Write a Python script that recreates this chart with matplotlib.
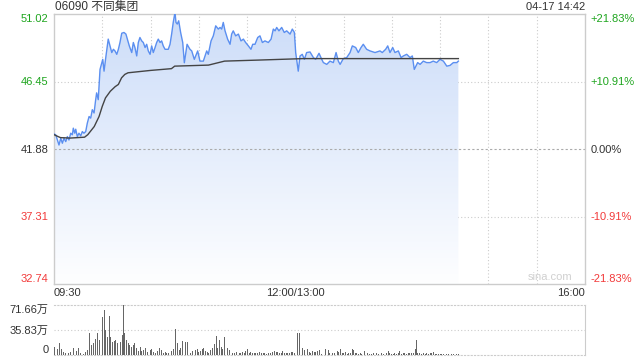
import numpy as np
import matplotlib
matplotlib.use("Agg")
import matplotlib.pyplot as plt
from matplotlib.patches import Polygon

plt.rcParams['font.family'] = ['Liberation Sans', 'Noto Sans CJK SC', 'DejaVu Sans']

title = "06090 不同集团"
stamp = "04-17 14:42"
prev_close = 41.88
y_ticks = [32.74, 37.31, 41.88, 46.45, 51.02]
y_tick_labels = ["32.74", "37.31", "41.88", "46.45", "51.02"]
pct_labels = ["-21.83%", "-10.91%", "0.00%", "+10.91%", "+21.83%"]
x_ticks = [0, 150, 330]
x_tick_labels = ["09:30", "12:00/13:00", "16:00"]
vol_ticks = [0, 35.83, 71.66]
vol_tick_labels = ["0", "35.83万", "71.66万"]

# minutes since 09:30 (lunch removed) and price
t = [0, 1.1, 3.1, 4.2, 5.2, 6.2, 7.3, 8.3, 9.3, 10.4,
     11.4, 12.0, 12.9, 13.5, 14.5, 15.5, 16.6, 17.6, 18.6, 19.7,
     20.7, 21.8, 22.8, 23.8, 24.9, 25.9, 26.5, 27.5, 28.6, 30.3,
     31.1, 32.3, 33.7, 34.8, 35.9, 36.9, 37.9, 39.0, 40.0, 41.0,
     42.1, 43.5, 44.7, 45.6, 46.8, 48.3, 49.3, 50.3, 51.4, 52.4,
     53.4, 54.5, 55.5, 56.6, 57.6, 58.6, 59.7, 60.7, 61.7, 62.8,
     63.8, 64.8, 65.9, 66.9, 67.9, 69.0, 71.0, 72.1, 73.1, 74.1,
     75.2, 75.8, 76.6, 77.5, 78.7, 80.0, 81.0, 82.7,
     84.5, 85.6, 87.2, 89.3, 90.7, 92.8,
     94.9, 95.9, 97.6, 99, 100.5, 102.1, 103.2, 104.2, 105.2, 106.3,
     107.9, 109.4, 110.4, 111.4, 112.9, 114.6, 116.2, 117.7, 119.1, 120.8,
     122.4, 123.5, 124.9, 126.6, 128, 129.5, 131.1, 133.2, 134.9, 136.3,
     137.4, 138.4, 139.8, 141.5, 143.1, 144.6, 146.7, 148.1, 149.4, 150.2,
     151.8, 152.9, 154.3, 155.6, 157, 159.1, 161.2, 162.6, 164.7, 166.4,
     167.4, 169.5, 171.5, 173.6, 175.3, 176.7, 177.8, 179.8, 181.9, 184,
     185.4, 187.5, 189.1, 190.8, 192.2, 194.3, 196.4, 199.5, 202.6, 204,
     206.1, 207.4, 208.8, 210.5, 211.9, 214, 215.7, 217.1, 219.2, 221.3,
     222.7, 223.9, 226, 227.5, 229.5, 231.6, 233.7, 235.7, 237.8, 239.9,
     242, 244.1, 246.1, 248.2, 250.3, 251.3]
price = [42.90, 42.84, 42.15, 42.61, 42.27, 42.61, 42.38, 42.72, 42.49, 42.95,
         42.84, 43.29, 42.95, 43.22, 42.72, 42.95, 42.77, 43.06, 42.95, 43.06,
         43.63, 44.08, 43.97, 44.54, 44.32, 45.22, 45.68, 45.22, 47.27, 47.95,
         47.15, 48.18, 49.32, 48.86, 48.41, 48.63, 48.52, 48.29, 48.63, 49.09,
         49.72, 49.77, 49.66, 49.32, 48.86, 48.41, 49.09, 48.75, 48.18, 49.09,
         49.43, 49.20, 49.09, 48.75, 48.97, 48.52, 48.29, 48.86, 48.41, 48.75,
         49.09, 49.32, 49.09, 49.20, 48.86, 48.63, 48.63, 48.97, 49.66, 50.45,
         51.14, 50.45, 50.34, 50.56, 49.77, 49.09, 47.72, 48.97,
         48.63, 48.52, 47.95, 48.52, 47.83, 47.83,
         48.52, 48.29, 49.20, 49.54, 50.22, 50.00, 50.11, 50.00, 50.45, 49.88,
         49.32, 48.97, 49.66, 49.88, 49.54, 49.66, 49.20, 49.32, 49.09, 48.86,
         48.63, 48.97, 48.97, 49.43, 49.54, 49.09, 49.20, 49.09, 49.32, 50.00,
         49.88, 50.11, 49.88, 50.11, 49.77, 49.88, 49.66, 50.00, 49.77, 48.41,
         47.15, 48.18, 48.29, 47.95, 48.41, 48.45, 48.07, 47.95, 48.36, 47.95,
         47.73, 47.61, 47.83, 47.73, 48.41, 47.83, 47.61, 48.00, 48.07, 48.41,
         48.86, 48.75, 48.41, 48.75, 48.97, 48.63, 48.52, 48.41, 48.52, 48.41,
         48.63, 48.86, 48.41, 48.75, 48.41, 48.52, 48.07, 48.18, 48.29, 48.07,
         48.18, 47.27, 47.73, 47.61, 47.83, 47.73, 47.73, 47.83, 47.73, 47.95,
         47.83, 47.49, 47.54, 47.73, 47.73, 47.83]

avg_t = [0, 4, 10, 19, 21, 25, 28, 30, 32, 35, 38, 40, 42, 44, 46, 60, 73, 75,
         96, 106, 127, 155, 251.3]
avg_p = [42.85, 42.65, 42.62, 42.68, 42.85, 43.40, 44.08, 44.77, 45.34, 45.79,
         46.1, 46.25, 46.70, 46.93, 47.04, 47.2, 47.32, 47.49, 47.56, 47.83,
         47.90, 48.0, 48.0]

# volume bars: minute and volume (万 shares)
vol_t = [0.6, 2.1, 3.3, 4.8, 5.8, 7.3, 8.9, 10.4, 12.0, 13.7,
         15.1, 16.6, 18.2, 19.7, 20.7, 22.0, 23.2, 24.4, 25.7, 26.9,
         28.2, 29.2, 30.2, 31.1, 32.1, 33.1, 34.2, 35.2, 36.3, 37.3,
         38.3, 39.4, 40.4, 41.4, 42.3, 43.3, 44.1, 45.2, 46.2, 47.2,
         48.3, 49.3, 50.3, 51.4, 52.4, 53.5, 54.5, 55.5, 57.0, 58.2,
         59.7, 60.7, 61.7, 63.2, 64.4, 65.5, 66.9, 68.0, 69.0, 70.0,
         71.1, 72.1, 73.1, 74.2, 75.6, 76.7, 77.9, 78.9, 80.0, 80.8,
         81.8, 82.9, 83.9, 84.9, 86.0, 87.0, 88.1, 89.1, 90.1, 91.2,
         92.2, 93.2, 94.3, 95.3, 96.3, 97.4, 98.4, 99.7, 100.7, 101.7,
         102.8, 103.8, 104.8, 105.9, 106.9, 107.9, 109.0, 110.0, 111.0, 112.1,
         113.5, 115.0, 116.0, 117.1, 118.3, 119.3, 120.4, 121.4, 122.4, 123.5,
         124.5, 125.5, 126.6, 127.6, 128.7, 130.1, 131.1, 132.2, 133.2, 134.7,
         135.9, 136.9, 138.0, 139.0, 140.0, 141.1, 142.1, 143.2, 144.2, 145.2,
         146.3, 147.3, 148.3, 149.4, 150.4, 151.4, 152.5, 153.5, 154.6, 155.6,
         156.6, 157.7, 158.7, 159.7, 160.8, 161.8, 162.8, 163.9, 164.9,
         165.3, 166.3, 167.8, 169.0, 170.5, 171.5, 173.0, 174.6, 176.1, 177.1,
         178.1, 179.2, 180.2, 181.3, 182.3, 183.3, 184.4, 185.4, 186.0, 187.1,
         188.1, 189.1, 190.2, 191.2, 192.9, 193.9, 194.9, 196.0, 197.4, 198.5,
         199.5, 200.5, 201.6, 202.6, 203.6, 204.7, 205.7, 206.7, 207.8, 208.8,
         209.8, 210.9, 211.9, 213.0, 214.0, 215.0, 216.1, 217.1, 218.1, 219.2,
         220.2, 221.2, 222.3, 223.3, 224.4, 225.2, 226.0, 227.0, 228.1, 229.5,
         230.6, 231.6, 232.6, 233.7, 234.7, 235.7, 236.8, 237.8, 238.9, 239.9,
         240.9, 242.0, 243.0, 244.0, 245.1, 246.1, 247.1, 248.2, 249.2, 250.2,
         251.3]
volume = [11.0, 8.6, 16.7, 8.1, 4.8, 3.3, 3.3, 4.8, 9.6, 6.2, 9.6, 3.3, 1.4, 3.8, 7.2,
          31.1, 14.3, 17.7, 22.9, 32.0, 21.5, 47.8, 55.0, 64.5, 35.9, 26.3, 55.9, 26.3,
          19.1, 20.6, 21.5, 17.7, 38.2, 19.1, 28.7, 71.7, 31.1, 21.5, 16.7, 14.3, 12.0,
          14.3, 16.7, 9.6, 6.2, 11.0, 6.2, 7.2, 9.6, 4.8, 7.2, 8.1, 4.3, 3.3, 6.2, 9.6,
          7.2, 3.3, 4.8, 2.4, 3.3, 4.8, 6.2, 8.1, 36.8, 17.7, 7.2, 9.6, 20.6, 34.9, 19.1,
          18.2, 7.2, 3.3, 6.2, 4.8, 7.2, 8.1, 4.8, 6.2, 8.1, 9.6, 6.2, 4.8, 3.3, 7.2, 9.6,
          15.8, 27.2, 10.5, 21.5, 12.0, 8.1, 25.3, 11.0, 9.6, 7.2, 4.8, 3.3, 2.4, 4.8,
          3.3, 2.4, 4.8, 3.3, 6.2, 8.1, 3.3, 4.8, 2.4, 3.3, 2.4, 3.3, 4.8, 3.3, 2.4, 3.3,
          1.4, 2.4, 2.4, 4.8, 6.2, 4.8, 4.8, 3.3, 3.3, 6.2, 3.3, 2.4, 2.4, 3.3, 4.8, 4.8,
          3.3, 7.2, 31.1, 32.0, 15.8, 9.6, 7.2, 6.2, 8.1, 4.8, 3.3, 6.2, 4.8, 4.8, 6.2,
          7.2,
          2.4, 1.4, 7.2, 8.1, 7.2, 3.3, 2.4, 2.4, 6.2, 3.8, 8.1, 2.4, 2.4, 4.8, 1.4, 2.4,
          3.3, 8.6, 7.2, 3.3, 2.4, 1.4, 2.4, 1.4, 6.2, 8.6, 2.4, 1.4, 1.4, 2.4, 1.4, 2.4,
          1.4, 1.4, 3.3, 1.4, 1.4, 2.4, 6.2, 2.4, 1.4, 1.4, 2.4, 1.4, 2.4, 6.2, 1.4, 3.3,
          2.4, 1.4, 2.4, 3.3, 3.3, 2.4, 8.1, 21.5, 3.3, 2.4, 1.4, 2.4, 1.4, 2.4, 1.4, 2.4,
          2.4, 3.8, 1.4, 1.0, 1.4, 1.0, 1.0, 1.0, 1.0, 1.0, 1.0, 1.0, 1.0, 1.0, 1.0, 1.0,
          1.0]

GREEN = '#1ea51e'
RED = '#f23a3a'
DARK = '#333333'
GRID = '#cccccc'

fig = plt.figure(figsize=(6.4, 3.6), dpi=100)
ax = fig.add_axes([54/640, 1-284/360, 531/640, 270/360])
axv = fig.add_axes([54/640, 1-355/360, 531/640, 50/360])

ymin, ymax = y_ticks[0], y_ticks[-1]
ax.set_xlim(0, 330)
ax.set_ylim(ymin, ymax)

# gradient fill below price line
poly_xy = np.column_stack([np.r_[t, t[-1], t[0]], np.r_[price, ymin, ymin]])
poly = Polygon(poly_xy, closed=True, facecolor='none', edgecolor='none')
ax.add_patch(poly)
g = np.linspace(0, 1, 256)[:, None, None]
top_c = np.array([0.80, 0.865, 0.975])[None, None, :]
bot_c = np.array([0.995, 0.997, 1.0])[None, None, :]
img = bot_c * (1 - g) + top_c * g
im = ax.imshow(img, extent=[0, t[-1], ymin, ymax], aspect='auto', zorder=1,
               origin='lower', interpolation='bilinear')
im.set_clip_path(poly)
ax.set_xlim(0, 330)
ax.set_ylim(ymin, ymax)

# grid
for xv in range(30, 330, 30):
    ax.axvline(xv, color=GRID, lw=0.8, ls=(0, (1, 2)), zorder=0.5)
for yv in [37.31, 46.45]:
    ax.axhline(yv, color=GRID, lw=0.8, ls=(0, (1, 2)), zorder=0.5)
ax.axhline(prev_close, color='#aaaaaa', lw=0.8, ls=(0, (2, 2)), zorder=2)

ax.plot(t, price, color='#5b8ff0', lw=1.0, zorder=3)
ax.plot(avg_t, avg_p, color='#444444', lw=1.0, zorder=4)

for s in ax.spines.values():
    s.set_color(GRID)
    s.set_linewidth(1.0)

ax.set_yticks(y_ticks)
ax.set_yticklabels(y_tick_labels, fontsize=8)
ax.tick_params(axis='y', length=0, pad=4)
cols = [RED, RED, DARK, GREEN, GREEN]
for lab, c in zip(ax.get_yticklabels(), cols):
    lab.set_color(c)
ax.get_yticklabels()[0].set_va('bottom')
ax.get_yticklabels()[-1].set_va('top')

ax.set_xticks(x_ticks)
ax.set_xticklabels(x_tick_labels, fontsize=8, color=DARK)
ax.tick_params(axis='x', length=0, pad=3)
xl = ax.get_xticklabels()
xl[0].set_ha('left')
xl[-1].set_ha('right')

ax2 = ax.twinx()
ax2.set_ylim(ymin, ymax)
ax2.set_yticks(y_ticks)
ax2.set_yticklabels(pct_labels, fontsize=8)
ax2.tick_params(axis='y', length=0, pad=4)
for lab, c in zip(ax2.get_yticklabels(), cols):
    lab.set_color(c)
ax2.get_yticklabels()[0].set_va('bottom')
ax2.get_yticklabels()[-1].set_va('top')
for s in ax2.spines.values():
    s.set_visible(False)

ax.text(0.977, 0.026, "sina.com", transform=ax.transAxes, ha='right', va='center',
        fontsize=8, color='#d0d0d0', zorder=5)

# volume
axv.bar(vol_t, volume, width=0.6, color='#666666', zorder=3)
axv.set_xlim(0, 330)
axv.set_ylim(0, vol_ticks[-1])
axv.axhline(vol_ticks[1], color=GRID, lw=0.8, ls=(0, (1, 2)), zorder=0.5)
axv.spines['left'].set_visible(False)
axv.spines['right'].set_color(GRID)
axv.spines['top'].set_color(GRID)
axv.spines['top'].set_linestyle((0, (1, 2)))
axv.spines['bottom'].set_color(GRID)
axv.spines['bottom'].set_linestyle((0, (1, 2)))
axv.set_xticks([])
axv.set_yticks(vol_ticks)
axv.set_yticklabels(vol_tick_labels, fontsize=8, color=DARK)
axv.tick_params(axis='y', length=0, pad=4)
axv.get_yticklabels()[0].set_va('bottom')
axv.get_yticklabels()[-1].set_va('top')

fig.text(55/640, 1-7/360, title, fontsize=8.5, color=DARK, ha='left', va='center')
fig.text(585/640, 1-7/360, stamp, fontsize=8, color=DARK, ha='right', va='center')

fig.savefig("out.png", dpi=100)
